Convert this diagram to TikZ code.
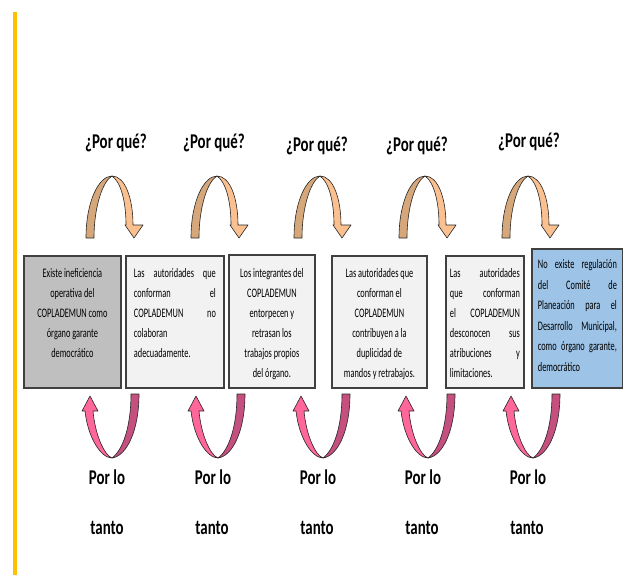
\documentclass[tikz,border=0pt]{standalone}
\usepackage{fontspec}
\setmainfont{Carlito}
\newfontfamily\labelfont[FakeStretch=0.71]{Carlito}
\newfontfamily\boxfont[FakeStretch=0.64]{Carlito}
\usepackage{xcolor}
\usepackage{tikz}
\definecolor{amarillo}{HTML}{FFC000}
\definecolor{gris}{HTML}{BFBFBF}
\definecolor{claro}{HTML}{F2F2F2}
\definecolor{azul}{HTML}{9DC3E6}
\definecolor{borde}{HTML}{404040}
\definecolor{tanoscuro}{HTML}{D6A77A}
\definecolor{tanclaro}{HTML}{FAC08F}
\definecolor{rosaclaro}{HTML}{FF6699}
\definecolor{rosaoscuro}{HTML}{C5507F}

\begin{document}
\begin{tikzpicture}[x=1pt, y=-1pt,
    caja/.style={draw=borde, line width=1.8pt, inner xsep=8pt, inner ysep=0pt, anchor=north west,
        font=\boxfont\fontsize{13}{20}\selectfont},
    etiqueta/.style={inner sep=0pt, font=\labelfont\bfseries\fontsize{21}{24}\selectfont},
    contorno/.style={draw=black!85, line width=0.6pt, line join=round},
    porque/.pic={
        \filldraw[contorno, fill=tanoscuro] (-26,62) .. controls (-26,25) and (-13,0) .. (0,0)
            .. controls (-9,5) and (-18,30) .. (-18,62) -- cycle;
        \filldraw[contorno, fill=tanclaro] (0,0) .. controls (13,0) and (21,22) .. (21,49)
            -- (31,49) -- (22,62) -- (13,49) -- (14,49) .. controls (14,26) and (9,6) .. (0,0) -- cycle;
    },
    portanto/.pic={
        \filldraw[contorno, fill=rosaoscuro] (19,-64) -- (27,-64) .. controls (27,-28) and (15,-2) .. (0,0)
            .. controls (11,-8) and (19,-32) .. (19,-64) -- cycle;
        \filldraw[contorno, fill=rosaclaro] (-22,-62) -- (-14,-47) -- (-19,-47)
            .. controls (-17,-24) and (-8,-3) .. (0,0) .. controls (-11,0) and (-24,-20) .. (-27,-47)
            -- (-30,-47) -- cycle;
    }]
\useasboundingbox (0,0) rectangle (623,575);

\draw[line width=4pt, amarillo] (15,12) -- (15,575);

\node[caja, fill=gris] (c1) at (23,255) {\parbox[t][132pt][t]{81pt}{\centering\vspace*{13pt}%
Existe ineficiencia\\ operativa del\\ COPLADEMUN como\\ órgano garante\\ democrático}};
\node[caja, fill=claro] (c2) at (125,255) {\parbox[t][132pt][t]{82pt}{\vspace*{13pt}%
Las\hfill autoridades\hfill que\\ conforman\hfill el\\ COPLADEMUN\hfill no\\ colaboran\\ adecuadamente.}};
\node[caja, fill=claro, inner xsep=6pt] (c3) at (228,254) {\parbox[t][133pt][t]{74pt}{\centering\vspace*{14pt}%
Los integrantes del\\ COPLADEMUN\\ entorpecen y\\ retrasan los\\ trabajos propios\\ del órgano.}};
\node[caja, fill=claro] (c4) at (331,255) {\parbox[t][132pt][t]{79pt}{\centering\vspace*{13pt}%
Las autoridades que\\ conforman el\\ COPLADEMUN\\ contribuyen a la\\ duplicidad de\\ mandos y retrabajos.}};
\node[caja, fill=claro, inner xsep=4pt] (c5) at (445,255) {\parbox[t][132pt][t]{70pt}{\vspace*{13pt}%
Las\hfill autoridades\\ que\hfill conforman\\ el\hfill COPLADEMUN\\ desconocen\hfill sus\\ atribuciones\hfill y\\ limitaciones.}};
\node[caja, fill=azul, inner xsep=6pt, font=\boxfont\fontsize{13}{20.5}\selectfont] (c6) at (531,248) {\parbox[t][139pt][t]{79pt}{\vspace*{11pt}%
No\hfill existe\hfill regulación\\ del\hfill Comité\hfill de\\ Planeación\hfill para\hfill el\\ Desarrollo\hfill Municipal,\\ como\hfill órgano\hfill garante,\\ democrático}};

\pic (fa1) at (112,176) {porque};
\pic (fa2) at (217,176) {porque};
\pic (fa3) at (320,176) {porque};
\pic (fa4) at (425,176) {porque};
\pic (fa5) at (528,176) {porque};

\pic (fb1) at (112,458) {portanto};
\pic (fb2) at (218,458) {portanto};
\pic (fb3) at (323,458) {portanto};
\pic (fb4) at (428,458) {portanto};
\pic (fb5) at (533,458) {portanto};

\node[etiqueta] (pq1) at (116,143) {¿Por qué?};
\node[etiqueta] (pq2) at (214,143) {¿Por qué?};
\node[etiqueta] (pq3) at (317,146) {¿Por qué?};
\node[etiqueta] (pq4) at (417,146) {¿Por qué?};
\node[etiqueta] (pq5) at (529,142) {¿Por qué?};

\node[etiqueta] (pl1) at (107,477) {Por lo};
\node[etiqueta] (pl2) at (213,477) {Por lo};
\node[etiqueta] (pl3) at (318,477) {Por lo};
\node[etiqueta] (pl4) at (423,477) {Por lo};
\node[etiqueta] (pl5) at (528,477) {Por lo};

\node[etiqueta] (t1) at (107,528) {tanto};
\node[etiqueta] (t2) at (212,528) {tanto};
\node[etiqueta] (t3) at (317,528) {tanto};
\node[etiqueta] (t4) at (422,528) {tanto};
\node[etiqueta] (t5) at (527,528) {tanto};
\end{tikzpicture}
\end{document}
